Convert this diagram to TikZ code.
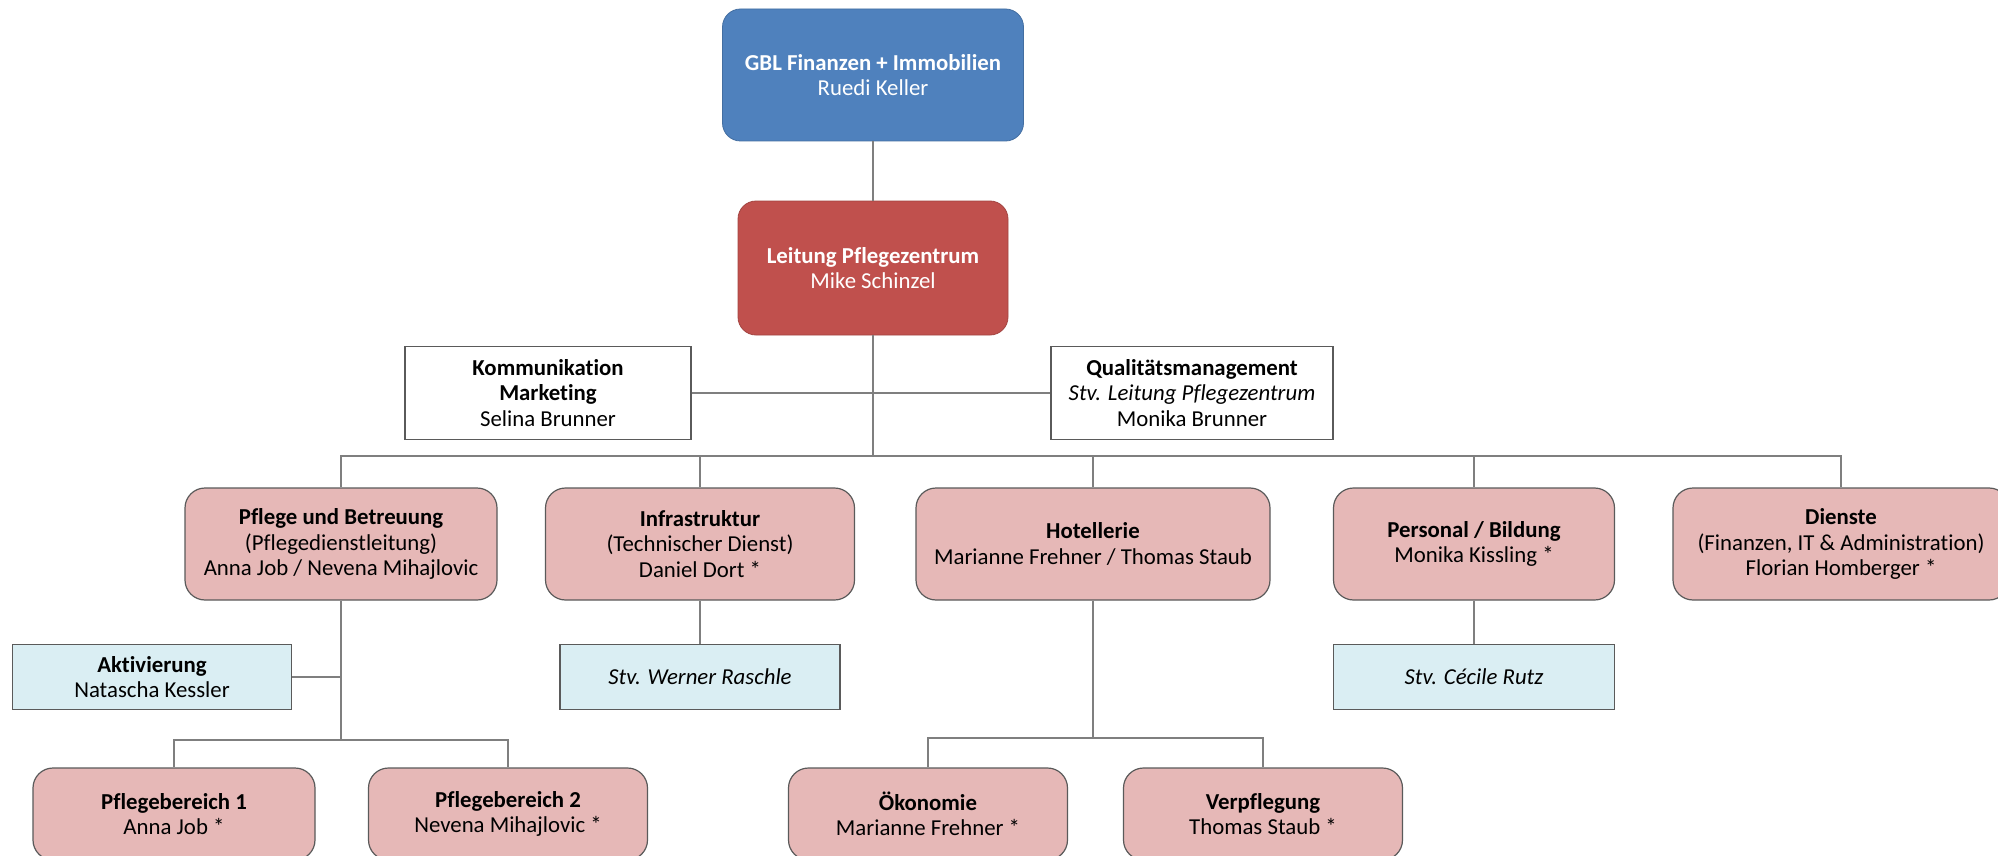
\documentclass[tikz,border=0pt]{standalone}
\usepackage{fontspec}
\setmainfont{Carlito}[RawFeature={-liga}]
\definecolor{gblblue}{HTML}{4F81BD}
\definecolor{leired}{HTML}{C0504D}
\definecolor{unitpink}{HTML}{E6B8B7}
\definecolor{deplblue}{HTML}{DAEEF3}
\definecolor{boxline}{HTML}{5A5A5A}
\definecolor{connline}{HTML}{7F7F7F}
\begin{document}
\begin{tikzpicture}[x=0.5pt,y=-0.5pt,
  base/.style={align=center,inner sep=0pt,font=\fontsize{11.4}{12.7}\selectfont},
  topblue/.style={base,fill=gblblue,draw=gblblue!85!black,rounded corners=9pt,text=white,minimum width=150.5pt,minimum height=66pt},
  topred/.style={base,fill=leired,draw=leired!85!black,rounded corners=9pt,text=white,minimum width=135pt,minimum height=67pt},
  staff/.style={base,fill=white,draw=boxline,line width=0.6pt,minimum height=46.5pt},
  unit/.style={base,fill=unitpink,draw=boxline,line width=0.6pt,rounded corners=10pt,minimum height=56pt},
  dep/.style={base,fill=deplblue,draw=boxline,line width=0.6pt,minimum height=32.5pt},
  conn/.style={draw=connline,line width=0.7pt}]
\useasboundingbox (0,0) rectangle (1998,856);
\clip (0,0) rectangle (1998,856);
\fill[white] (0,0) rectangle (1998,856);

% nodes
\node[topblue] (gbl) at (873,75) {\textbf{GBL Finanzen + Immobilien}\\Ruedi Keller};
\node[topred] (lei) at (873,268) {\textbf{Leitung Pflegezentrum}\\Mike Schinzel};
\node[staff,minimum width=143pt] (kom) at (548,393) {\textbf{Kommunikation}\\\textbf{Marketing}\\Selina Brunner};
\node[staff,minimum width=141pt] (qual) at (1192,393) {\textbf{Qualitätsmanagement}\\\textit{Stv. Leitung Pflegezentrum}\\Monika Brunner};

\node[unit,minimum width=156pt] (pfl) at (341,544) {\textbf{Pflege und Betreuung}\\(Pflegedienstleitung)\\Anna Job / Nevena Mihajlovic};
\node[unit,minimum width=154.5pt] (inf) at (700,544) {\textbf{Infrastruktur}\\(Technischer Dienst)\\Daniel Dort *};
\node[unit,minimum width=177pt] (hot) at (1093,544) {\textbf{Hotellerie}\\Marianne Frehner / Thomas Staub};
\node[unit,minimum width=140.5pt] (per) at (1474,544) {\textbf{Personal / Bildung}\\Monika Kissling *};
\node[unit,minimum width=168pt] (die) at (1841,544) {\textbf{Dienste}\\(Finanzen, IT \& Administration)\\Florian Homberger *};

\node[dep,minimum width=139.5pt] (akt) at (152,677) {\textbf{Aktivierung}\\Natascha Kessler};
\node[dep,minimum width=140pt] (wer) at (700,677) {\textit{Stv. Werner Raschle}};
\node[dep,minimum width=140.5pt] (cec) at (1474,677) {\textit{Stv. Cécile Rutz}};

\node[unit,minimum width=141pt,minimum height=46pt] (pb1) at (174,814) {\textbf{Pflegebereich 1}\\Anna Job *};
\node[unit,minimum width=139.5pt,minimum height=46pt] (pb2) at (508,814) {\textbf{Pflegebereich 2}\\Nevena Mihajlovic *};
\node[unit,minimum width=139.5pt,minimum height=46pt] (oek) at (928,814) {\textbf{Ökonomie}\\Marianne Frehner *};
\node[unit,minimum width=139.5pt,minimum height=46pt] (ver) at (1263,814) {\textbf{Verpflegung}\\Thomas Staub *};

% junction points
\coordinate (bus) at (873,456);
\coordinate (pbus) at (341,740);
\coordinate (hbus) at (1093,738);

% connectors
\draw[conn] (gbl.south) -- (lei.north);
\draw[conn] (kom.east) -- (qual.west);
\draw[conn] (lei.south) -- (bus);
\draw[conn] (pfl.north) |- (bus) -| (die.north);
\draw[conn] (inf.north) -- (inf.north |- bus);
\draw[conn] (hot.north) -- (hot.north |- bus);
\draw[conn] (per.north) -- (per.north |- bus);
\draw[conn] (inf.south) -- (wer.north);
\draw[conn] (per.south) -- (cec.north);
\draw[conn] (akt.east) -- (akt.east -| pfl.south);
\draw[conn] (pfl.south) -- (pbus);
\draw[conn] (pb1.north) |- (pbus) -| (pb2.north);
\draw[conn] (hot.south) -- (hbus);
\draw[conn] (oek.north) |- (hbus) -| (ver.north);
\end{tikzpicture}
\end{document}
